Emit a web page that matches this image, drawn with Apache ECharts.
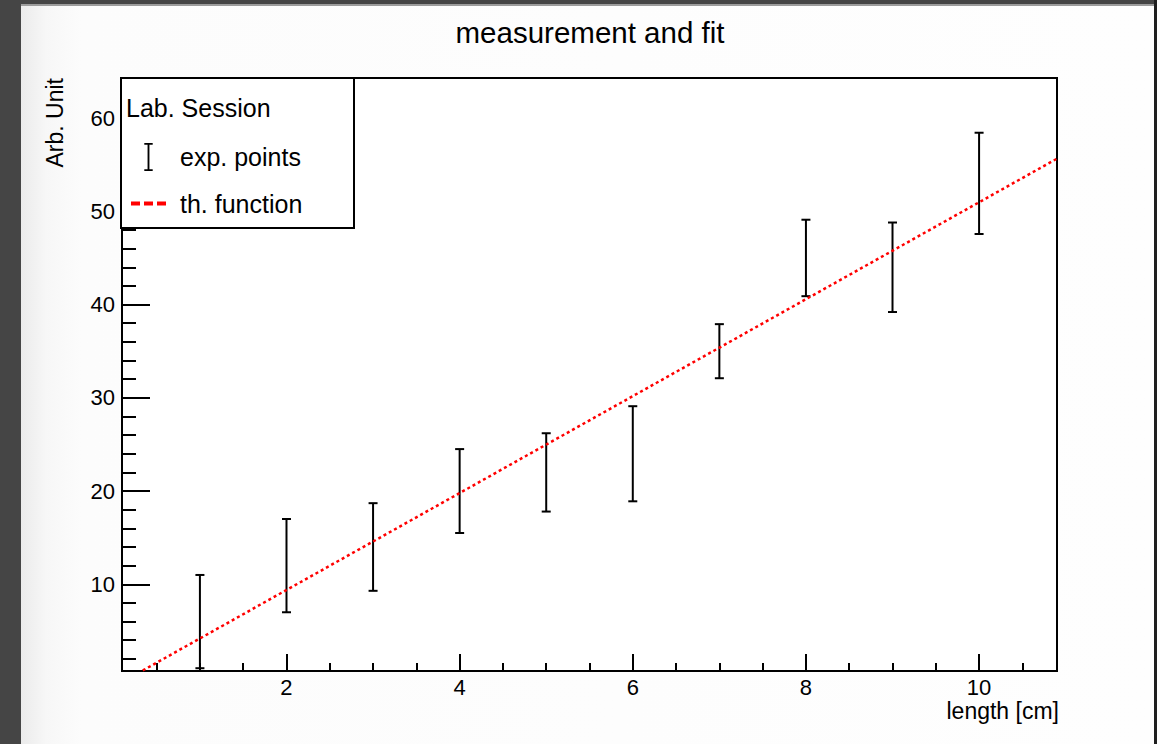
<!DOCTYPE html>
<html><head><meta charset="utf-8">
<script src="https://cdn.jsdelivr.net/npm/echarts@6/dist/echarts.min.js"></script>
<style>
html,body{margin:0;padding:0;width:1157px;height:744px;overflow:hidden;background:#454545;}
#frame{position:absolute;left:21px;top:4px;width:1133px;height:740px;background:linear-gradient(to right,#ebebeb 0px,#f7f7f7 25px,#fcfcfc 60px,#fefefe 100%);border-top:2px solid #9c9c9c;}
#rightband{position:absolute;left:1154px;top:0;width:3px;height:744px;background:#1f1f1f;}
#chart{position:absolute;left:0;top:0;width:1157px;height:744px;}
</style></head>
<body><div id="frame"></div><div id="rightband"></div><div id="chart"></div>
<script>
// ---- data ----
const xVals = [1, 2, 3, 4, 5, 6, 7, 8, 9, 10];
const yVals = [6, 12, 14, 20, 22, 24, 35, 45, 44, 53];
const yErrs = [5, 5, 4.7, 4.5, 4.2, 5.1, 2.9, 4.1, 4.8, 5.43];
const fitX = [0.34, 10.9];
const fitY = [0.76, 55.65];
const xMajorTicks = [2, 4, 6, 8, 10];
const xMinorTicks = [0.5, 1, 1.5, 2.5, 3, 3.5, 4.5, 5, 5.5, 6.5, 7, 7.5, 8.5, 9, 9.5, 10.5];
const yMajorTicks = [10, 20, 30, 40, 50, 60];
const yMinorTicks = [2, 4, 6, 8, 12, 14, 16, 18, 22, 24, 26, 28, 32, 34, 36, 38, 42, 44, 46, 48, 52, 54, 56, 58, 62, 64];
const titleText = 'measurement and fit';
const legendTitle = 'Lab. Session';
const pointsName = 'exp. points';
const fitName = 'th. function';
const xName = 'length [cm]';
const yName = 'Arb. Unit';

const FONT = 'Liberation Sans';
const X_MIN = 0.1, X_MAX = 10.9, Y_MIN = 0.7, Y_MAX = 64.3;

const chart = echarts.init(document.getElementById('chart'), null, {renderer: 'svg'});

const tickStyle = {color: '#000', width: 2};
const labelStyle = {color: '#000', fontSize: 22, fontFamily: FONT};

const option = {
  animation: false,
  backgroundColor: 'transparent',
  textStyle: {fontFamily: FONT},
  title: [
    {text: titleText, left: 590, textAlign: 'center', top: 17, padding: 0,
     textStyle: {fontSize: 29.5, fontWeight: 'normal', color: '#000', fontFamily: FONT}},
    {text: legendTitle, left: 126, top: 95, padding: 0,
     textStyle: {fontSize: 25, fontWeight: 'normal', color: '#000', fontFamily: FONT}}
  ],
  grid: {left: 122, top: 78, width: 935, height: 593, show: true,
         borderColor: '#000', borderWidth: 2, backgroundColor: '#fff',
         containLabel: false, outerBoundsMode: 'none'},
  legend: {
    orient: 'vertical', left: 131, top: 143, padding: 0,
    itemWidth: 35, itemHeight: 28, itemGap: 20, selectedMode: false,
    textStyle: {fontSize: 25, fontFamily: FONT, color: '#000', padding: [0, 0, 0, 9]},
    data: [
      {name: pointsName, icon: 'path://M0,0H9V2H5.5V28H9V30H0V28H3.5V2H0Z', itemStyle: {color: '#000'}},
      {name: fitName, icon: 'path://M0,0H9V4H0Z M13,0H22V4H13Z M26,0H35V4H26Z', itemStyle: {color: '#ff0000'}}
    ]
  },
  graphic: [
    {type: 'rect', z: 3, shape: {x: 121, y: 78, width: 233, height: 150},
     style: {fill: '#fff', stroke: '#000', lineWidth: 2}}
  ],
  xAxis: [
    {type: 'value', min: X_MIN, max: X_MAX, position: 'bottom',
     axisLine: {show: false}, splitLine: {show: false},
     axisTick: {show: true, inside: true, length: 17, lineStyle: tickStyle, customValues: xMajorTicks},
     axisLabel: Object.assign({customValues: xMajorTicks, margin: 5}, labelStyle),
     name: xName, nameLocation: 'end', nameGap: 2,
     nameTextStyle: {color: '#000', fontSize: 23, fontFamily: FONT, align: 'right', verticalAlign: 'top', padding: [28, 0, 0, 0]}},
    {type: 'value', min: X_MIN, max: X_MAX, position: 'bottom',
     axisLine: {show: false}, splitLine: {show: false},
     axisTick: {show: true, inside: true, length: 8, lineStyle: tickStyle, customValues: xMinorTicks},
     axisLabel: {show: false}}
  ],
  yAxis: [
    {type: 'value', min: Y_MIN, max: Y_MAX, position: 'left',
     axisLine: {show: false}, splitLine: {show: false},
     axisTick: {show: true, inside: true, length: 28, lineStyle: tickStyle, customValues: yMajorTicks},
     axisLabel: Object.assign({customValues: yMajorTicks, margin: 7, padding: [5, 0, 0, 0]}, labelStyle),
     name: yName, nameLocation: 'end', nameGap: 0, nameRotate: 90,
     nameTextStyle: {color: '#000', fontSize: 23, fontFamily: FONT, align: 'right', verticalAlign: 'bottom', padding: [0, 0, 56, 0]}},
    {type: 'value', min: Y_MIN, max: Y_MAX, position: 'left',
     axisLine: {show: false}, splitLine: {show: false},
     axisTick: {show: true, inside: true, length: 14, lineStyle: tickStyle, customValues: yMinorTicks},
     axisLabel: {show: false}}
  ],
  series: [
    {
      name: pointsName, type: 'custom', xAxisIndex: 0, yAxisIndex: 0, z: 2,
      itemStyle: {color: '#000'},
      data: xVals.map((x, i) => [x, yVals[i], yErrs[i]]),
      encode: {x: 0, y: 1},
      renderItem: function (params, api) {
        const x = api.value(0), y = api.value(1), e = api.value(2);
        const top = api.coord([x, y + e]);
        const bot = api.coord([x, y - e]);
        const hw = 4.5;
        const st = {stroke: '#000', lineWidth: 2, fill: null};
        return {type: 'group', children: [
          {type: 'line', shape: {x1: top[0], y1: top[1], x2: bot[0], y2: bot[1]}, style: st},
          {type: 'line', shape: {x1: top[0] - hw, y1: top[1], x2: top[0] + hw, y2: top[1]}, style: st},
          {type: 'line', shape: {x1: bot[0] - hw, y1: bot[1], x2: bot[0] + hw, y2: bot[1]}, style: st}
        ]};
      }
    },
    {
      name: fitName, type: 'line', xAxisIndex: 0, yAxisIndex: 0, z: 3,
      symbol: 'none', clip: true, color: '#ff0000',
      lineStyle: {color: '#ff0000', width: 2.5, type: [3, 3]},
      data: fitX.map((x, i) => [x, fitY[i]])
    }
  ]
};
chart.setOption(option);
</script>
</body></html>
